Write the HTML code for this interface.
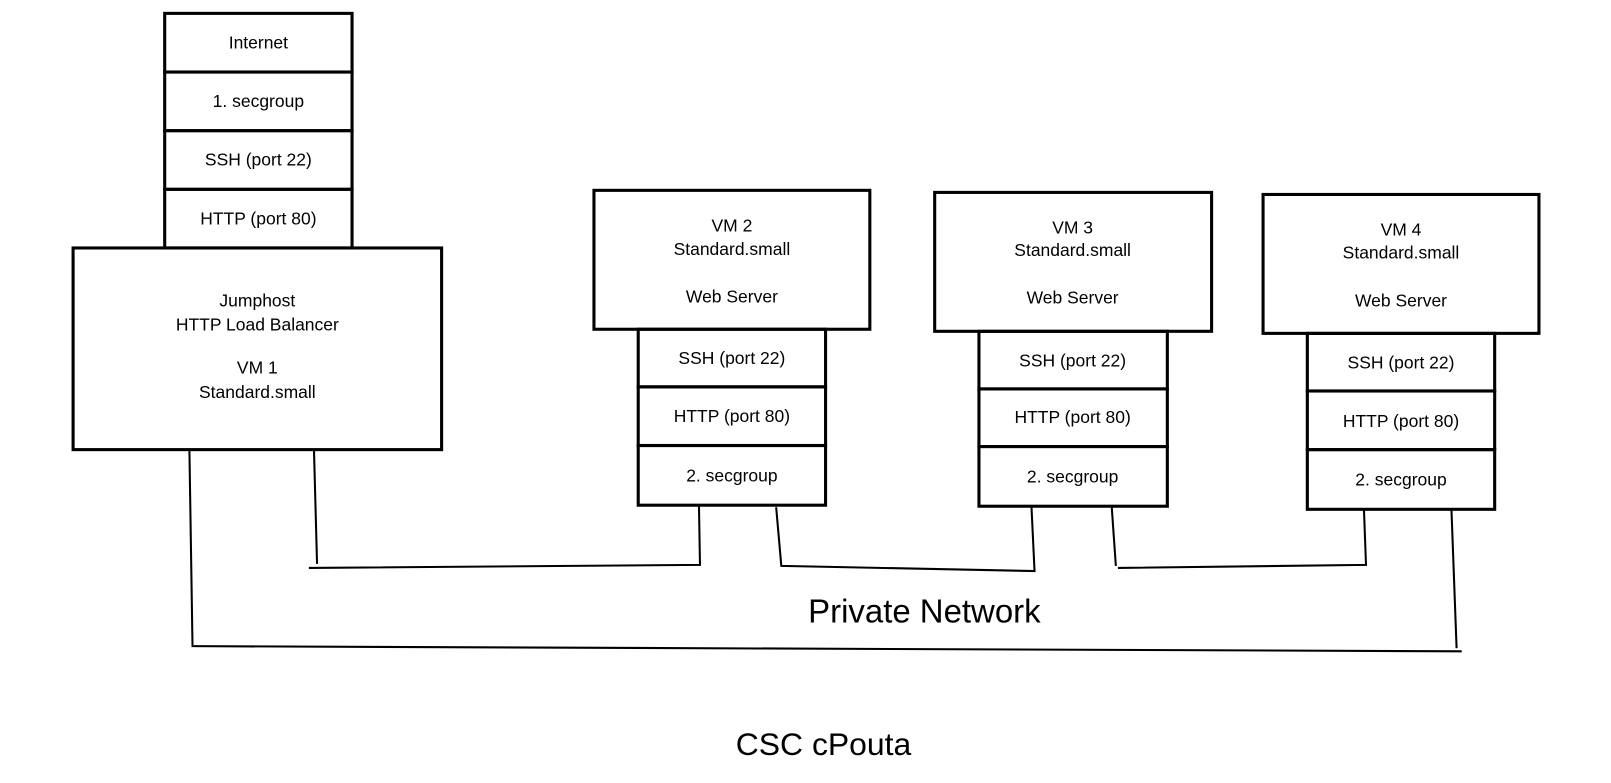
<!DOCTYPE html>
<html><head><meta charset="utf-8"><style>
html,body{margin:0;padding:0;background:#fff;}
svg{display:block;}
text{font-family:"Liberation Sans",sans-serif;font-size:17px;fill:#000;text-anchor:middle;}
</style></head><body>
<svg width="1611" height="783" viewBox="0 0 1565 761" preserveAspectRatio="none">
<g fill="none" stroke="#000" stroke-width="3">
<rect x="160" y="13" width="182" height="57"/>
<rect x="160" y="70" width="182" height="57"/>
<rect x="160" y="127" width="182" height="57"/>
<rect x="160" y="184" width="182" height="57"/>
<rect x="71" y="241" width="358" height="196"/>
<rect x="577" y="185" width="268" height="135"/>
<rect x="620" y="320" width="182" height="56"/>
<rect x="620" y="376" width="182" height="57"/>
<rect x="620" y="433" width="182" height="58"/>
<rect x="908" y="187" width="269" height="135"/>
<rect x="951" y="322" width="183" height="56"/>
<rect x="951" y="378" width="183" height="56"/>
<rect x="951" y="434" width="183" height="58"/>
<rect x="1227" y="189" width="268" height="135"/>
<rect x="1270" y="324" width="182" height="56"/>
<rect x="1270" y="380" width="182" height="57"/>
<rect x="1270" y="437" width="182" height="58"/>
</g>
<g fill="none" stroke="#000" stroke-width="2">
<polyline points="184,437 187,627"/>
<polyline points="186,628 1420,633"/>
<polyline points="1410,495 1415,630"/>
<polyline points="305,437 308,548"/>
<polyline points="300,552 680,549 679,491"/>
<polyline points="754,493 759,550 1005,555 1002,492"/>
<polyline points="1080,493 1084,550"/>
<polyline points="1086,552 1327,549 1325,495"/>
</g>
<text x="251" y="47">Internet</text>
<text x="251" y="104">1. secgroup</text>
<text x="251" y="161">SSH (port 22)</text>
<text x="251" y="218">HTTP (port 80)</text>
<text x="250" y="298">Jumphost</text>
<text x="250" y="321">HTTP Load Balancer</text>
<text x="250" y="363">VM 1</text>
<text x="250" y="387">Standard.small</text>
<text x="711" y="225">VM 2</text>
<text x="711" y="248">Standard.small</text>
<text x="711" y="294">Web Server</text>
<text x="711" y="354">SSH (port 22)</text>
<text x="711" y="410">HTTP (port 80)</text>
<text x="711" y="468">2. secgroup</text>
<text x="1042" y="227">VM 3</text>
<text x="1042" y="249">Standard.small</text>
<text x="1042" y="295">Web Server</text>
<text x="1042" y="356">SSH (port 22)</text>
<text x="1042" y="411">HTTP (port 80)</text>
<text x="1042" y="469">2. secgroup</text>
<text x="1361" y="229">VM 4</text>
<text x="1361" y="251">Standard.small</text>
<text x="1361" y="298">Web Server</text>
<text x="1361" y="358">SSH (port 22)</text>
<text x="1361" y="415">HTTP (port 80)</text>
<text x="1361" y="472">2. secgroup</text>
<text x="898" y="605" style="font-size:32px">Private Network</text>
<text x="800" y="734" style="font-size:31px">CSC cPouta</text>
</svg>
</body></html>
